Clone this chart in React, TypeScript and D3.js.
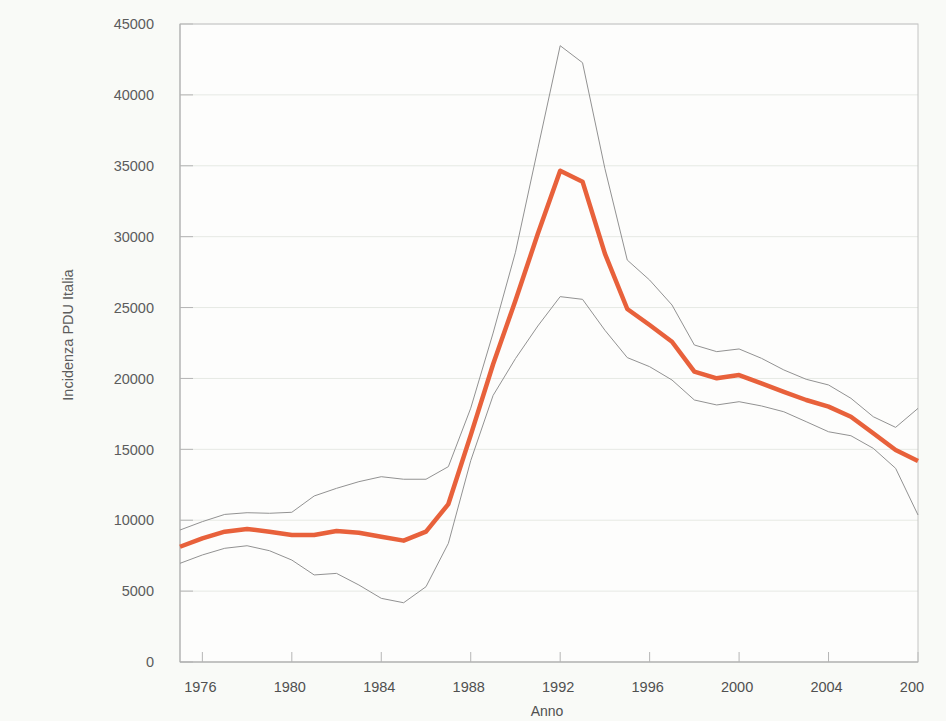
import React from "react";
import * as d3 from "d3";

const years = [1975, 1976, 1977, 1978, 1979, 1980, 1981, 1982, 1983, 1984, 1985, 1986, 1987, 1988, 1989, 1990, 1991, 1992, 1993, 1994, 1995, 1996, 1997, 1998, 1999, 2000, 2001, 2002, 2003, 2004, 2005, 2006, 2007, 2008];
const estimate = [8130, 8720, 9190, 9380, 9190, 8960, 8960, 9240, 9120, 8840, 8560, 9190, 11140, 16000, 21000, 25500, 30200, 34650, 33880, 28800, 24900, 23770, 22590, 20480, 20010, 20240, 19650, 19060, 18480, 18010, 17300, 16130, 14950, 14180];
const upper = [9310, 9900, 10410, 10530, 10490, 10560, 11710, 12250, 12720, 13070, 12890, 12890, 13780, 17900, 23200, 28900, 36200, 43470, 42270, 34800, 28350, 26940, 25180, 22360, 21890, 22080, 21420, 20600, 19940, 19540, 18600, 17300, 16550, 17890];
const lower = [6960, 7550, 8020, 8200, 7850, 7190, 6140, 6250, 5430, 4490, 4180, 5310, 8370, 14200, 18800, 21400, 23700, 25770, 25580, 23400, 21470, 20830, 19890, 18480, 18130, 18360, 18060, 17650, 16950, 16240, 15960, 15070, 13660, 10370];
const xTicks = [1976, 1980, 1984, 1988, 1992, 1996, 2000, 2004, 2008];
const yTicks = [0, 5000, 10000, 15000, 20000, 25000, 30000, 35000, 40000, 45000];

export default function App() {
  const W = 946, H = 721;
  const left = 180, right = 918, top = 24, bottom = 662;
  const x = d3.scaleLinear().domain([1975, 2008]).range([left, right]);
  const y = d3.scaleLinear().domain([0, 45000]).range([bottom, top]);
  const line = d3.line<number>().x((_, i) => x(years[i])).y((d) => y(d));
  const font = "'Liberation Sans', Arial, sans-serif";
  return (
    <svg width={W} height={H} style={{ position: "absolute", left: 0, top: 0, display: "block" }}>
      <defs>
        <clipPath id="pageclip">
          <rect x={0} y={0} width={924} height={H} />
        </clipPath>
      </defs>
      <rect x={0} y={0} width={W} height={H} fill="#f9faf7" />
      <rect x={left} y={top} width={right - left} height={bottom - top} fill="#fdfdfc" />
      {yTicks.map((t) => (
        <g key={t}>
          <line x1={left} x2={right} y1={y(t)} y2={y(t)} stroke="#e6e9e4" strokeWidth={1} />
          <line x1={left} x2={left + 13} y1={y(t)} y2={y(t)} stroke="#b5b5b5" strokeWidth={1} />
          <text x={154} y={y(t)} dy="0.36em" textAnchor="end" fontFamily={font} fontSize={14.5} fill="#5c5c5c">
            {t}
          </text>
        </g>
      ))}
      {xTicks.map((t) => (
        <g key={t} clipPath="url(#pageclip)">
          <line x1={x(t)} x2={x(t)} y1={bottom} y2={bottom - 10} stroke="#b5b5b5" strokeWidth={1} />
          <text x={x(t) - 2} y={692} textAnchor="middle" fontFamily={font} fontSize={14.5} fill="#505050">
            {t}
          </text>
        </g>
      ))}
      <rect x={left} y={top} width={right - left} height={bottom - top} fill="none" stroke="#c4c4c4" strokeWidth={1} />
      <line x1={left} x2={left} y1={top} y2={bottom} stroke="#ababab" strokeWidth={1} />
      <line x1={left} x2={right} y1={bottom} y2={bottom} stroke="#ababab" strokeWidth={1} />
      <path d={line(upper) || ""} fill="none" stroke="#929292" strokeWidth={1} />
      <path d={line(lower) || ""} fill="none" stroke="#929292" strokeWidth={1} />
      <path d={line(estimate) || ""} fill="none" stroke="#e8613b" strokeWidth={4.5} strokeLinejoin="round" />
      <text x={547} y={716} textAnchor="middle" fontFamily={font} fontSize={14} fill="#505050">
        Anno
      </text>
      <text
        transform={`translate(73, 335) rotate(-90)`}
        textAnchor="middle"
        fontFamily={font}
        fontSize={14.5}
        fill="#5c5c5c"
      >
        Incidenza PDU Italia
      </text>
    </svg>
  );
}
